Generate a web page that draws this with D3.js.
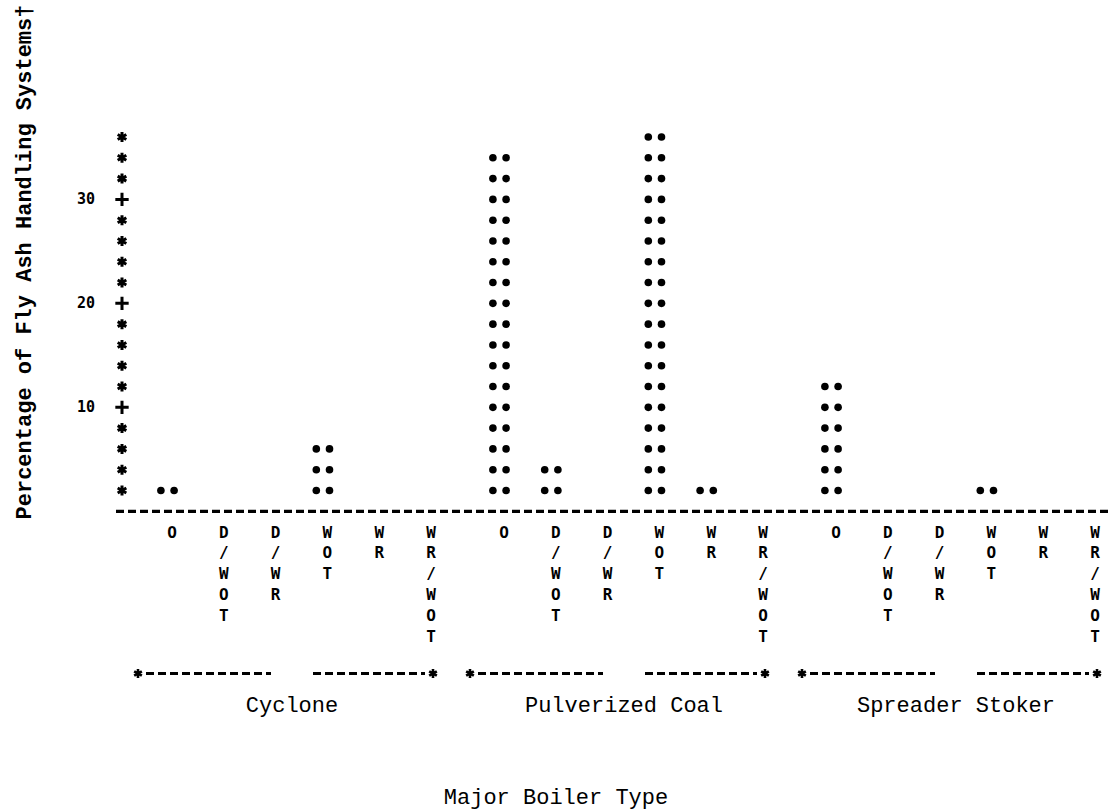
<!DOCTYPE html>
<html>
<head>
<meta charset="utf-8">
<script src="https://cdn.jsdelivr.net/npm/d3@7"></script>
<style>
  body { margin: 0; background: #fff; }
  text { fill: #000; }
</style>
</head>
<body>
<svg id="chart" width="1111" height="809"></svg>
<script>
// Boiler types and the ash-handling system codes plotted under each
const groups = ["Cyclone", "Pulverized Coal", "Spreader Stoker"];
const systems = ["O", "D/WOT", "D/WR", "WOT", "WR", "WR/WOT"];

// Percentage of fly ash handling systems, per system code
const cyclone = [2, 0, 0, 6, 0, 0];
const pulverizedCoal = [34, 4, 0, 36, 2, 0];
const spreaderStoker = [12, 0, 0, 2, 0, 0];

const yTicks = [10, 20, 30];
const yMax = 36;
const rowStep = 2;            // one printed row = 2 percentage points

const yTitle = "Percentage of Fly Ash Handling Systems\u2020";
const xTitle = "Major Boiler Type";

const seriesByGroup = { "Cyclone": cyclone, "Pulverized Coal": pulverizedCoal, "Spreader Stoker": spreaderStoker };

const svg = d3.select("#chart");
const mono = "'Liberation Mono', 'DejaVu Sans Mono', monospace";
const printFont = "'DejaVu Sans Mono', 'Liberation Mono', monospace";

const y = d3.scaleLinear().domain([0, yMax]).range([511.3, 137]);
const xGroup = d3.scalePoint().domain(groups).range([172, 836]);
const xSys = d3.scalePoint().domain(systems).range([0, 259]);
const rowH = y(0) - y(rowStep);
const xc = (g, s) => xGroup(g) + xSys(s);

// Baseline drawn as a row of printer dashes
svg.append("line")
  .attr("x1", 116).attr("x2", 1111)
  .attr("y1", y(0)).attr("y2", y(0))
  .attr("stroke", "#000").attr("stroke-width", 3.2)
  .attr("stroke-dasharray", "8,4");

// Vertical axis: a column of asterisks with "+" at labelled ticks
const axisX = 122;
const axisRows = d3.range(rowStep, yMax + 1, rowStep);
svg.append("g").selectAll("path")
  .data(axisRows)
  .join("path")
  .attr("transform", v => `translate(${axisX},${y(v)})`)
  .attr("d", v => d3.symbol(yTicks.includes(v) ? d3.symbolPlus : d3.symbolAsterisk).size(yTicks.includes(v) ? 60 : 70)())
  .attr("fill", "none")
  .attr("stroke", "#000")
  .attr("stroke-width", 3);

svg.append("g").selectAll("text")
  .data(yTicks)
  .join("text")
  .attr("x", 95).attr("y", v => y(v))
  .attr("text-anchor", "end")
  .attr("dominant-baseline", "central")
  .attr("font-family", printFont)
  .attr("font-weight", "bold")
  .attr("font-size", 15)
  .text(d => d);

// Bars: each row of a bar is a pair of printed dots
const cells = [];
groups.forEach(g => {
  seriesByGroup[g].forEach((v, i) => {
    for (let k = rowStep; k <= v; k += rowStep) {
      cells.push({ g, s: systems[i], k });
    }
  });
});
const dotGap = 6.6;
svg.append("g").selectAll("g")
  .data(cells)
  .join("g")
  .attr("transform", d => `translate(${xc(d.g, d.s) - 4.5},${y(d.k)})`)
  .each(function () {
    d3.select(this).selectAll("circle")
      .data([-dotGap, dotGap])
      .join("circle")
      .attr("cx", dx => dx).attr("cy", 0).attr("r", 3.8)
      .attr("fill", "#000");
  });

// System code labels printed vertically, one character per row
const labelChars = [];
groups.forEach(g => systems.forEach(s => {
  s.split("").forEach((ch, i) => labelChars.push({ g, s, ch, i }));
}));
svg.append("g").selectAll("text")
  .data(labelChars)
  .join("text")
  .attr("x", d => xc(d.g, d.s))
  .attr("y", d => y(0) + rowH * (d.i + 1))
  .attr("text-anchor", "middle")
  .attr("dominant-baseline", "central")
  .attr("font-family", printFont)
  .attr("font-weight", "bold")
  .attr("font-size", 16)
  .text(d => d.ch);

// Group brackets: *---------   ---------* under each boiler type
const bracketY = y(0) + rowH * 7.8;
const bracket = svg.append("g");
const bracketMid = g => xGroup(g) + 120;
groups.forEach(g => {
  const x0 = xGroup(g) - 34;
  const x1 = xc(g, systems[systems.length - 1]) + 2;
  const mid = bracketMid(g);
  [[x0 + 8, mid - 21], [mid + 21, x1 - 8]].forEach(([a, b]) => {
    bracket.append("line")
      .attr("x1", a).attr("x2", b)
      .attr("y1", bracketY).attr("y2", bracketY)
      .attr("stroke", "#000").attr("stroke-width", 3)
      .attr("stroke-dasharray", "8,4");
  });
  [x0, x1].forEach(xx => {
    bracket.append("path")
      .attr("transform", `translate(${xx},${bracketY})`)
      .attr("d", d3.symbol(d3.symbolAsterisk).size(55)())
      .attr("fill", "none").attr("stroke", "#000").attr("stroke-width", 2.6);
  });
});

svg.append("g").selectAll("text")
  .data(groups)
  .join("text")
  .attr("x", g => bracketMid(g))
  .attr("y", 706)
  .attr("text-anchor", "middle")
  .attr("dominant-baseline", "central")
  .attr("font-family", mono)
  .attr("font-size", 22)
  .text(g => g);

// Axis titles
svg.append("text")
  .attr("x", 556).attr("y", 798)
  .attr("text-anchor", "middle")
  .attr("dominant-baseline", "central")
  .attr("font-family", mono)
  .attr("font-size", 22)
  .text(xTitle);

svg.append("text")
  .attr("transform", "translate(31,262) rotate(-90)")
  .attr("text-anchor", "middle")
  .attr("font-family", mono)
  .attr("font-weight", "bold")
  .attr("font-size", 22)
  .text(yTitle);
</script>
</body>
</html>
